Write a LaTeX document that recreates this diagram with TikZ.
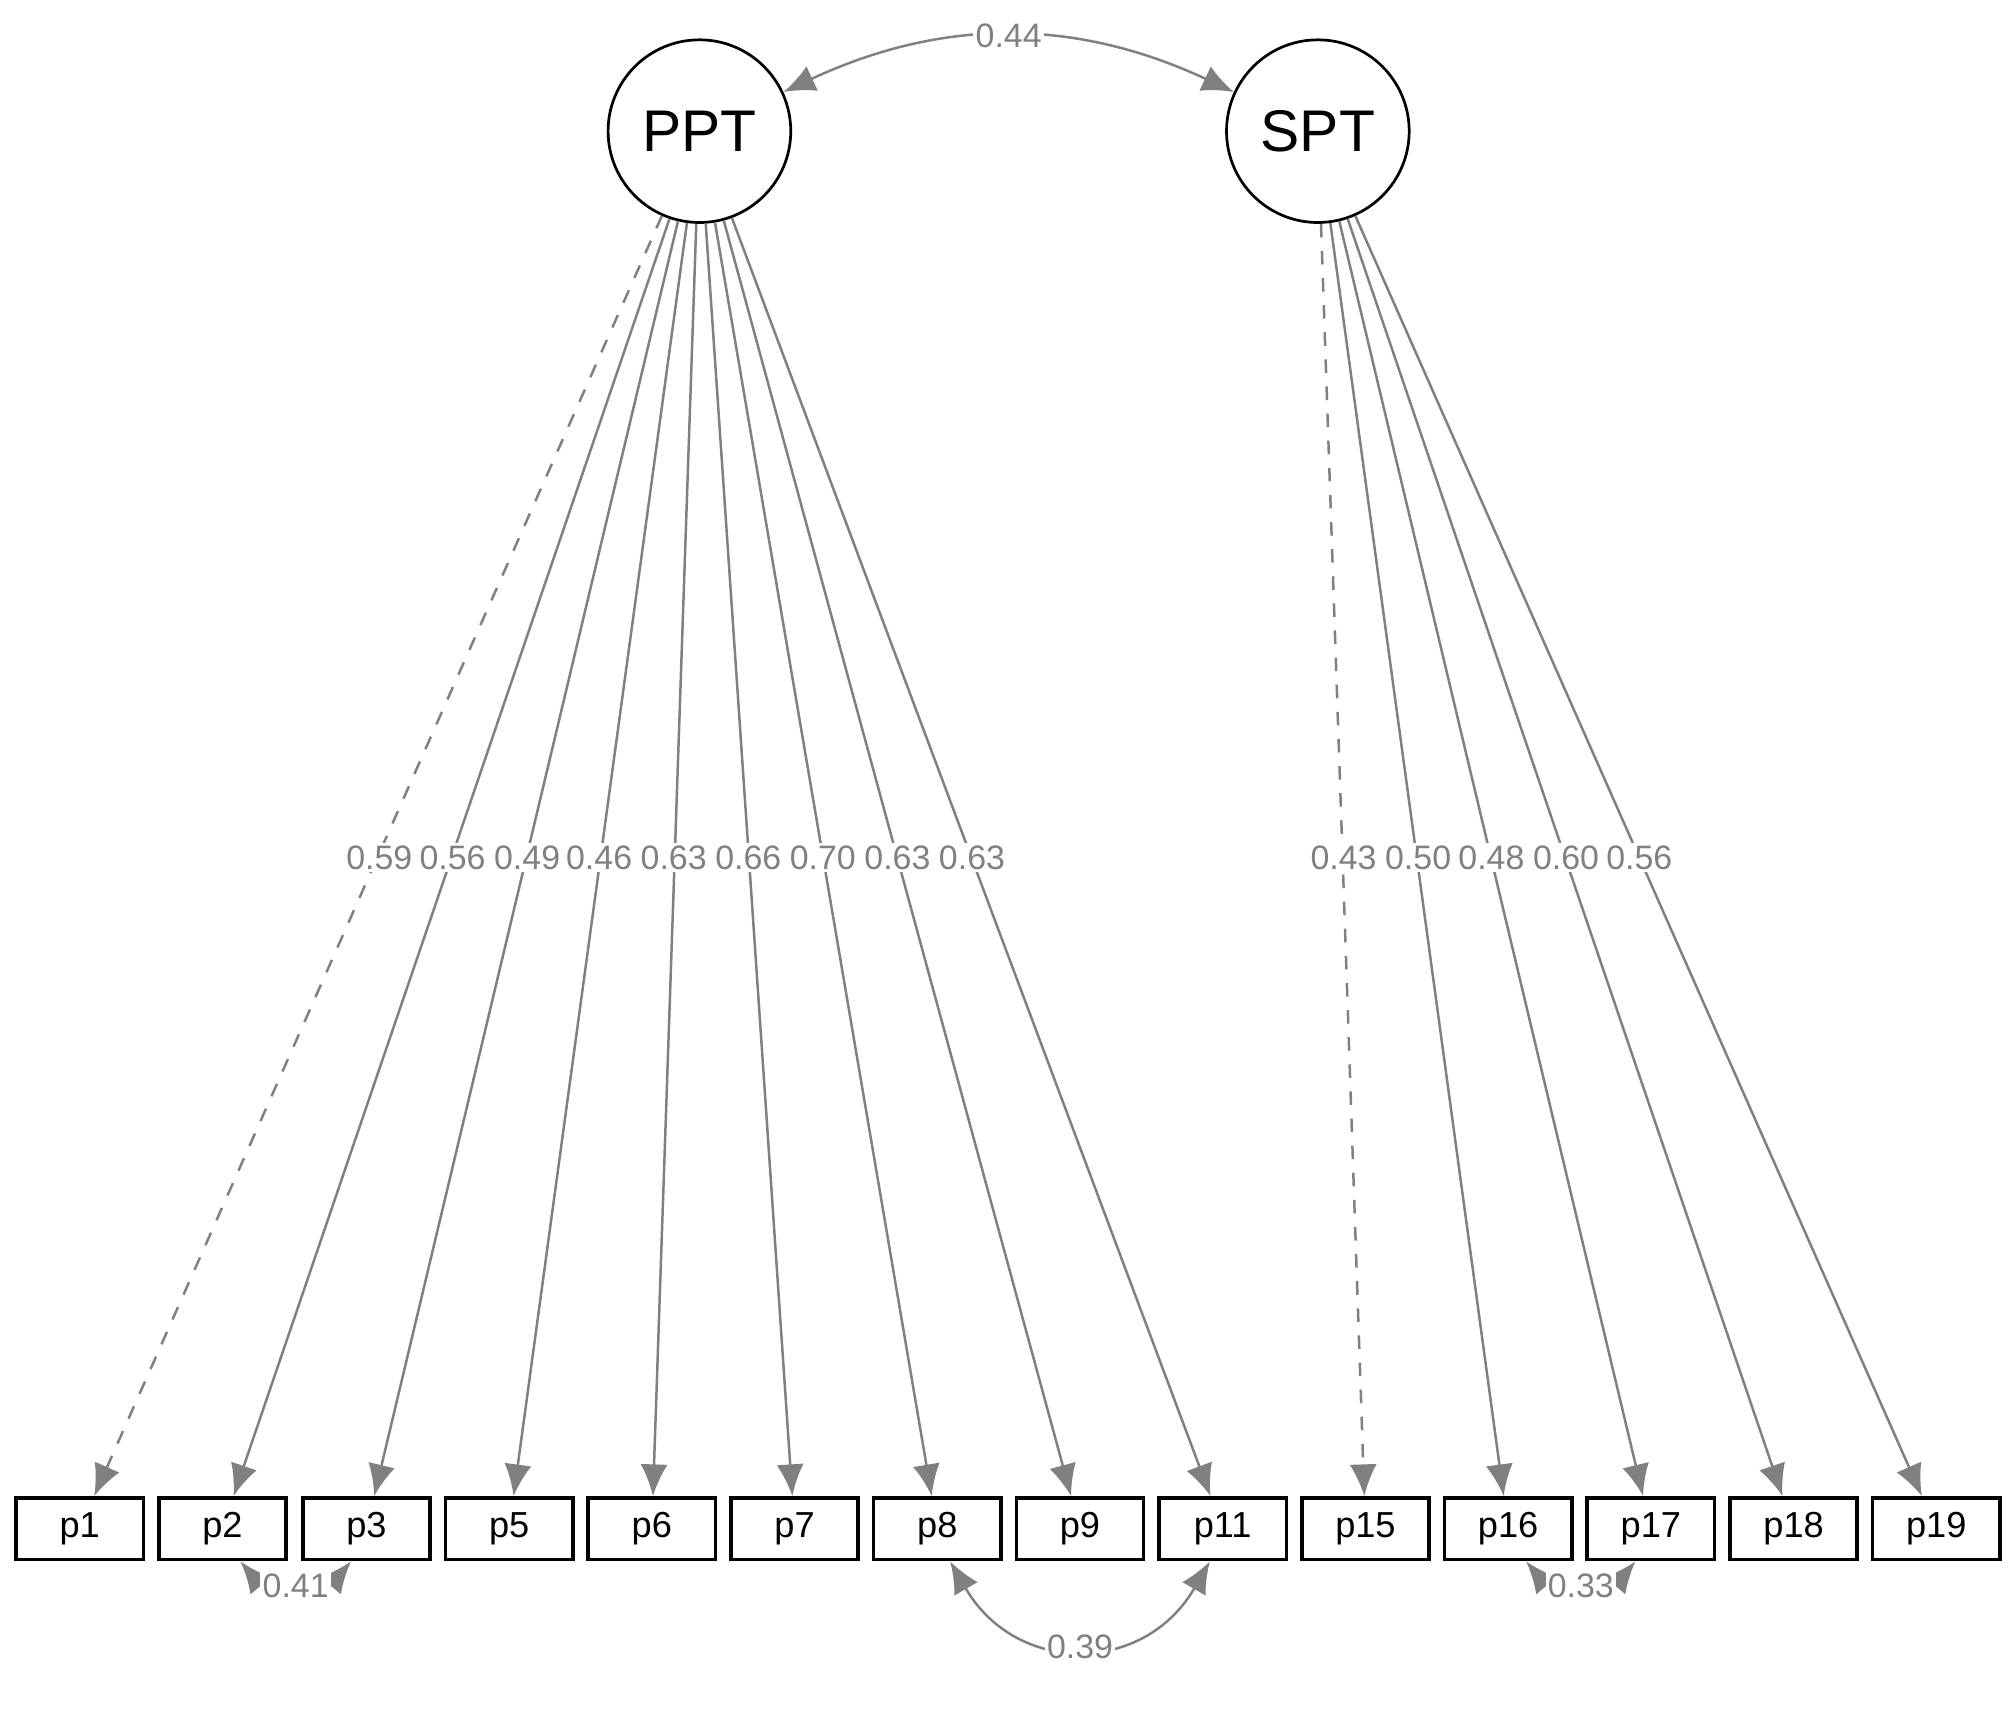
\documentclass[tikz,border=0pt]{standalone}
\usepackage{fontspec}
\setmainfont{Liberation Sans}
\usetikzlibrary{arrows.meta}
\definecolor{ln}{RGB}{128,128,128}
\begin{document}
\begin{tikzpicture}[x=0.01cm,y=-0.01cm,
  lat/.style={circle,draw=black,line width=0.6pt,minimum size=1.42cm,inner sep=0pt,font=\fontsize{13}{15}\selectfont},
  obs/.style={rectangle,draw=black,line width=0.8pt,minimum width=0.99cm,minimum height=0.48cm,inner sep=0pt,font=\fontsize{8}{10}\selectfont},
  ld/.style={draw=ln,line width=0.55pt,-{Latex[length=7pt,width=6pt]}},
  cov/.style={draw=ln,line width=0.55pt,{Latex[length=7pt,width=6pt]}-{Latex[length=7pt,width=6pt]}},
  lab/.style={fill=white,inner sep=0.5pt,text=ln,font=\fontsize{7.5}{9}\selectfont}]
\useasboundingbox (0,0) rectangle (1568,1350);
\node[lat] (PPT) at (544,102) {PPT};
\node[lat] (SPT) at (1025,102) {SPT};
\foreach \n/\x in {p1/62,p2/173,p3/285,p5/396,p6/507,p7/618,p8/729,p9/840,p11/951,p15/1062,p16/1173,p17/1284,p18/1395,p19/1506}
  \node[obs] (\n) at (\x,1189) {\n};
\draw[ld,dashed] (PPT) -- (p1);
\foreach \n in {p2,p3,p5,p6,p7,p8,p9,p11} \draw[ld] (PPT) -- (\n);
\draw[ld,dashed] (SPT) -- (p15);
\foreach \n in {p16,p17,p18,p19} \draw[ld] (SPT) -- (\n);
\foreach \v/\x in {0.59/295,0.56/352,0.49/410,0.46/466,0.63/524,0.66/582,0.70/640,0.63/698,0.63/756,0.43/1045,0.50/1103,0.48/1160,0.60/1218,0.56/1275}
  \node[lab] (l\x) at (\x,667) {\v};
\draw[cov] (PPT) to[bend left=25] node[lab,pos=0.5] {0.44} (SPT);
\draw[cov] ([xshift=0.14cm]p2.south) to[out=-50,in=-130] node[lab,pos=0.5] {0.41} ([xshift=-0.12cm]p3.south);
\draw[cov] ([xshift=0.14cm]p16.south) to[out=-50,in=-130] node[lab,pos=0.5] {0.33} ([xshift=-0.12cm]p17.south);
\draw[cov] ([xshift=0.1cm]p8.south) to[out=-60,in=-120,looseness=1.3] node[lab,pos=0.5] {0.39} ([xshift=-0.1cm]p11.south);
\end{tikzpicture}
\end{document}
